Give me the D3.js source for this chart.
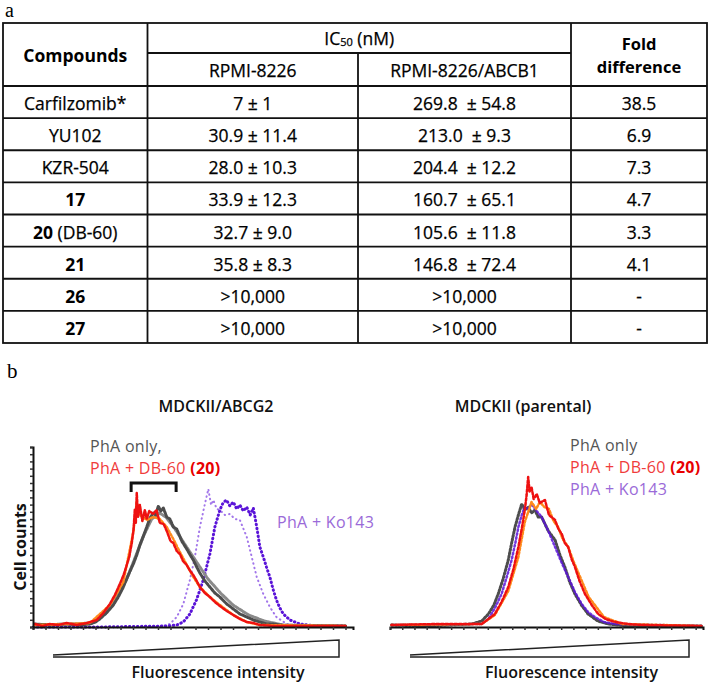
<!DOCTYPE html>
<html><head><meta charset="utf-8">
<script src="https://cdn.jsdelivr.net/npm/d3@7"></script>
<style>body{margin:0;background:#fff}svg{display:block}text{font-family:"Open Sans",sans-serif}</style>
</head><body>
<svg id="c" width="711" height="687"></svg>
<script>
// ---------- Table data ----------
const compounds = ["Carfilzomib*", "YU102", "KZR-504", "17", "20", "21", "26", "27"];
const compoundSuffix = ["", "", "", "", " (DB-60)", "", "", ""];
const compoundBold = [false, false, false, true, true, true, true, true];
const ic50Parental = ["7 \u00B1 1", "30.9 \u00B1 11.4", "28.0 \u00B1 10.3", "33.9 \u00B1 12.3", "32.7 \u00B1 9.0", "35.8 \u00B1 8.3", ">10,000", ">10,000"];
const ic50ABCB1 = ["269.8 \u00A0\u00B1 54.8", "213.0 \u00A0\u00B1 9.3", "204.4 \u00A0\u00B1 12.2", "160.7 \u00A0\u00B1 65.1", "105.6 \u00A0\u00B1 11.8", "146.8 \u00A0\u00B1 72.4", ">10,000", ">10,000"];
const foldDiff = ["38.5", "6.9", "7.3", "4.7", "3.3", "4.1", "-", "-"];
const cellLines = ["RPMI-8226", "RPMI-8226/ABCB1"];

// ---------- Histogram data [channel, cell count] ----------
// MDCKII/ABCG2
const abcg2PhaOnly = [[6,3],[60,2],[108,3],[150,2],[182,3],[200,5],[214,8],[235,14],[257,22],[273,30],[289,40],[305,52],[321,63],[332,72],[342,82],[352,90],[364,100],[374,109],[385,114],[393,112],[401,121],[409,116],[417,119],[428,110],[438,108],[449,100],[460,98],[476,86],[492,78],[503,72],[513,67],[524,60],[534,54],[550,46],[566,40],[582,34],[598,30],[620,23],[641,18],[662,13],[684,10],[705,7],[726,5],[748,3],[769,3],[812,1],[1000,1]];
const abcg2PhaOnly2 = [[6,2],[120,3],[190,4],[225,12],[265,28],[300,48],[330,72],[355,92],[380,108],[405,114],[425,110],[450,100],[475,88],[500,76],[530,62],[560,48],[600,34],[640,22],[690,12],[740,6],[800,2],[1000,1]];
const abcg2DB60 = [[6,3],[30,1],[54,3],[80,2],[108,4],[140,2],[172,4],[204,7],[225,14],[246,23],[262,32],[278,43],[290,52],[300,62],[308,70],[316,84],[322,98],[326,118],[329,104],[332,134],[336,110],[342,122],[350,106],[358,117],[364,108],[372,116],[385,113],[395,117],[406,104],[418,103],[428,96],[440,86],[449,84],[460,76],[470,73],[480,66],[492,62],[503,56],[513,52],[524,46],[534,40],[550,34],[566,30],[582,25],[598,21],[620,16],[641,12],[662,8],[684,5],[705,4],[726,2],[769,1],[1000,1]];
const abcg2DB60b = [[6,2],[108,3],[182,4],[246,22],[289,45],[321,95],[332,125],[342,112],[364,107],[385,110],[406,108],[428,100],[449,88],[470,75],[492,62],[513,50],[534,40],[566,30],[598,22],[641,12],[684,5],[726,2],[1000,1]];
const abcg2Ko143 = [[1,0],[214,0],[427,1],[460,2],[481,5],[502,13],[523,27],[545,47],[566,73],[582,100],[598,117],[608,124],[619,127],[630,121],[641,125],[652,118],[662,122],[673,116],[684,120],[695,112],[705,119],[716,100],[726,80],[737,70],[747,60],[758,50],[768,38],[779,27],[790,19],[801,13],[822,7],[854,3],[908,1],[993,1]];
const abcg2Ko143b = [[350,0],[406,0],[438,3],[460,10],[481,23],[502,47],[518,70],[534,100],[550,123],[561,138],[570,122],[577,127],[588,118],[598,117],[614,112],[630,113],[646,108],[662,107],[684,90],[700,70],[716,50],[737,33],[758,20],[779,10],[812,3],[854,1],[950,0]];
// MDCKII parental
const parPhaOnly = [[5,2],[120,1],[267,3],[300,6],[322,13],[340,22],[354,33],[370,48],[387,67],[398,84],[409,100],[420,112],[431,123],[441,117],[452,120],[463,114],[474,117],[485,110],[496,110],[518,96],[540,87],[556,72],[572,60],[588,45],[605,33],[626,22],[648,13],[680,6],[714,3],[779,1],[1019,1]];
const parDB60 = [[5,2],[150,3],[300,3],[343,13],[365,25],[387,40],[404,58],[420,80],[432,100],[441,117],[447,132],[452,150],[457,135],[463,140],[470,128],[480,133],[490,124],[507,127],[520,112],[540,107],[551,98],[562,93],[572,84],[583,80],[594,68],[605,60],[620,46],[638,33],[660,22],[681,13],[705,8],[736,5],[780,3],[823,2],[1019,1]];
const parDB60b = [[5,2],[300,3],[343,12],[387,36],[420,70],[441,105],[463,125],[478,118],[490,125],[505,120],[520,118],[535,106],[550,100],[565,88],[583,80],[600,66],[615,55],[650,30],[700,10],[760,3],[1019,1]];
const parKo143 = [[5,2],[300,3],[322,8],[345,20],[365,33],[382,50],[398,67],[410,84],[420,100],[431,112],[441,120],[452,118],[463,123],[480,116],[496,110],[518,96],[540,80],[562,64],[583,50],[605,35],[627,23],[648,15],[670,10],[700,5],[736,3],[1019,1]];

const svg = d3.select("#c");

// ================= Panel a : table =================
const colEdges = [3, 147.5, 358, 571, 707];
const rowY = d3.scaleLinear().domain([0, 8]).range([86, 343]);
const tbl = svg.append("g");
svg.append("text").attr("x", 5).attr("y", 17).style("font-family", "'Liberation Serif',serif").style("font-size", "20px").text("a");

const lineStyle = s => s.attr("stroke", "#111").attr("stroke-width", 1.8).attr("fill", "none");
tbl.append("rect").attr("x", colEdges[0]).attr("y", 23).attr("width", colEdges[4] - colEdges[0]).attr("height", rowY(8) - 23).call(lineStyle);
[1, 3].forEach(i => tbl.append("line").attr("x1", colEdges[i]).attr("x2", colEdges[i]).attr("y1", 23).attr("y2", rowY(8)).call(lineStyle));
tbl.append("line").attr("x1", colEdges[2]).attr("x2", colEdges[2]).attr("y1", 53).attr("y2", rowY(8)).call(lineStyle);
tbl.append("line").attr("x1", colEdges[1]).attr("x2", colEdges[3]).attr("y1", 53).attr("y2", 53).call(lineStyle);
d3.range(0, 8).forEach(i => tbl.append("line").attr("x1", colEdges[0]).attr("x2", colEdges[4]).attr("y1", rowY(i)).attr("y2", rowY(i)).call(lineStyle));

const cx = i => (colEdges[i] + colEdges[i + 1]) / 2;
const fs = "17.5px";
const t = (x, y, txt, bold, size) => tbl.append("text").attr("x", x).attr("y", y).attr("text-anchor", "middle").attr("dominant-baseline", "central")
  .style("font-size", size || fs).style("font-weight", bold ? 700 : 400).attr("fill", "#000").attr("stroke", "#000").attr("stroke-width", bold ? 0 : 0.25).text(txt);

t(cx(0), 55, "Compounds", true);
const ic = tbl.append("text").attr("x", (colEdges[1] + colEdges[3]) / 2).attr("y", 38).attr("text-anchor", "middle").attr("dominant-baseline", "central").style("font-size", fs).attr("fill", "#000").attr("stroke", "#000").attr("stroke-width", 0.25);
ic.append("tspan").text("IC");
ic.append("tspan").style("font-size", "11px").attr("dy", 3).text("50");
ic.append("tspan").attr("dy", -3).text(" (nM)");
t(cx(1), 70, cellLines[0], false);
t(cx(2), 70, cellLines[1], false);
t(cx(3), 43, "Fold", true, "16.5px");
t(cx(3), 66, "difference", true, "16.5px");

compounds.forEach((c, i) => {
  const y = (rowY(i) + rowY(i + 1)) / 2 + 1;
  const tx = tbl.append("text").attr("x", cx(0)).attr("y", y).attr("text-anchor", "middle").attr("dominant-baseline", "central").style("font-size", fs).attr("fill", "#000");
  tx.append("tspan").style("font-weight", compoundBold[i] ? 700 : 400).attr("stroke", "#000").attr("stroke-width", compoundBold[i] ? 0 : 0.25).text(c);
  if (compoundSuffix[i]) tx.append("tspan").attr("stroke", "#000").attr("stroke-width", 0.25).text(compoundSuffix[i]);
  t(cx(1), y, ic50Parental[i], false);
  t(cx(2), y, ic50ABCB1[i], false);
  t(cx(3), y, foldDiff[i], false);
});

// ================= Panel b : histograms =================
svg.append("text").attr("x", 7).attr("y", 378).style("font-family", "'Liberation Serif',serif").style("font-size", "21px").text("b");

const yCount = d3.scaleLinear().domain([0, 180]).range([627, 447]);
const xLeft = d3.scaleLinear().domain([0, 1024]).range([33, 353]);
const xRight = d3.scaleLinear().domain([0, 1024]).range([390, 703]);

function drawSeries(g, x, data, color, width, dash, opacity) {
  const line = d3.line().x(d => x(d[0])).y(d => yCount(d[1])).curve(d3.curveLinear);
  g.append("path").datum(data).attr("d", line).attr("fill", "none").attr("stroke", color)
    .attr("stroke-width", width).attr("stroke-dasharray", dash).attr("stroke-linecap", "round").attr("stroke-linejoin", "round").attr("opacity", opacity || 1);
}

function panel(x, title, titleX, series, withYAxis) {
  const g = svg.append("g");
  g.append("text").attr("x", titleX).attr("y", 412).attr("text-anchor", "middle").style("font-size", "16px").style("font-weight", 600).attr("fill", "#111").text(title);
  series.forEach(s => drawSeries(g, x, s.data, s.color, s.w, s.dash, s.op));
  const xa = g.append("g").attr("transform", `translate(0,${yCount(0)})`)
    .call(d3.axisBottom(x).tickValues(d3.range(0, 1025, 40)).tickSize(3).tickFormat(""));
  xa.select(".domain").attr("stroke", "#111").attr("stroke-width", 2);
  xa.selectAll(".tick line").attr("stroke", "#333").attr("stroke-width", 1.5);
  if (withYAxis) {
    const ya = g.append("g").attr("transform", `translate(${x.range()[0]},0)`)
      .call(d3.axisLeft(yCount).tickValues(d3.range(0, 181, 7.2)).tickSize(3).tickFormat(""));
    ya.select(".domain").attr("stroke", "#111").attr("stroke-width", 2);
    ya.selectAll(".tick line").attr("stroke", "#333").attr("stroke-width", 1.5);
  }
  const [x0, x1] = x.range();
  g.append("path").attr("d", `M${x0 + 20},655 L${x1 - 14},640 L${x1 - 14},657 L${x0 + 20},657`)
    .attr("fill", "none").attr("stroke", "#222").attr("stroke-width", 1.5);
  g.append("text").attr("x", (x0 + x1) / 2 + 25).attr("y", 678).attr("text-anchor", "middle").style("font-size", "16px").style("font-weight", 600).attr("fill", "#111").text("Fluorescence intensity");
  return g;
}

const grayDark = "#4d4d4d", grayLight = "#8a8a8a", red = "#ee1111", orange = "#ff8a1c", purple = "#5a14d8", purpleLight = "#a276ea";

const gl = panel(xLeft, "MDCKII/ABCG2", 216, [
  {data: abcg2Ko143b, color: purpleLight, w: 2, dash: "0.5,4"},
  {data: abcg2Ko143, color: purple, w: 3, dash: "0.5,3.5"},
  {data: abcg2PhaOnly2, color: grayLight, w: 3, dash: "3,1.5"},
  {data: abcg2PhaOnly, color: grayDark, w: 3, dash: "2.5,1.5"},
  {data: abcg2DB60b, color: orange, w: 2.5, dash: "2,2"},
  {data: abcg2DB60, color: red, w: 2.5, dash: "3,1.5"}
], true);

const gr = panel(xRight, "MDCKII (parental)", 523, [
  {data: parPhaOnly, color: grayDark, w: 3, dash: "1.5,2"},
  {data: parKo143, color: purple, w: 2.5, dash: "1.5,2.5", op: 0.85},
  {data: parDB60b, color: orange, w: 2.5, dash: "2,2"},
  {data: parDB60, color: red, w: 2.5, dash: "2.5,2"}
], false);

svg.append("text").attr("transform", "translate(26,547) rotate(-90)").attr("text-anchor", "middle").style("font-size", "16px").style("font-weight", 700).attr("fill", "#111").text("Cell counts");

gl.append("path").attr("d", `M${xLeft(314)},492 L${xLeft(314)},483 L${xLeft(458)},483 L${xLeft(458)},492`).attr("fill", "none").attr("stroke", "#111").attr("stroke-width", 3);

const leg = (x, y, parts) => {
  const tx = svg.append("text").attr("x", x).attr("y", y).style("font-size", "16px").style("letter-spacing", "0.3px");
  parts.forEach(p => tx.append("tspan").attr("fill", p[1]).style("font-weight", p[2] ? 700 : 400).text(p[0]));
};
leg(90, 452, [["PhA only,", "#555"]]);
leg(90, 474, [["PhA + DB-60 ", "#f03c3c"], ["(20)", "#e80000", true]]);
leg(277, 528, [["PhA  + Ko143", "#9a6ad8"]]);
leg(570, 451, [["PhA only", "#555"]]);
leg(570, 473, [["PhA + DB-60 ", "#f03c3c"], ["(20)", "#e80000", true]]);
leg(570, 495, [["PhA + Ko143", "#9a6ad8"]]);
</script></body></html>
